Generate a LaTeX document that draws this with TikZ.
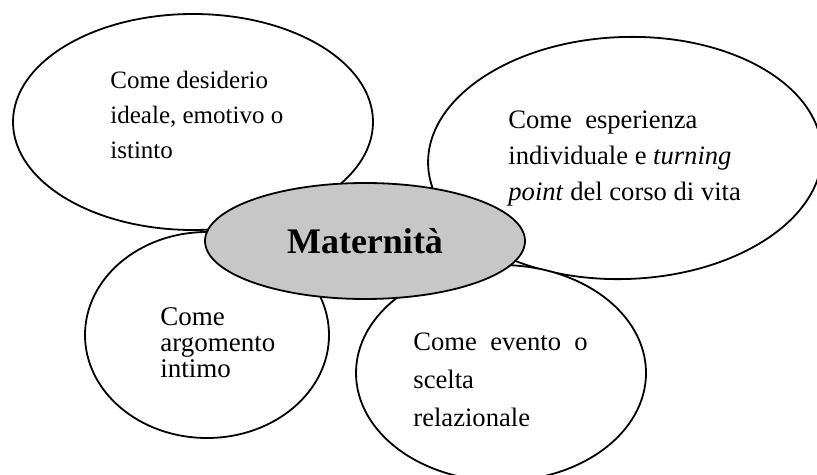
\documentclass[tikz,border=0pt]{standalone}
\usepackage{fontspec}
\setmainfont{Liberation Serif}
\usetikzlibrary{shapes.geometric}

\tikzset{
  bubble/.style={draw, ellipse, fill=white, line width=0.9pt, inner sep=0pt},
  core/.style={bubble, fill=black!22, font=\fontsize{18}{20}\selectfont\bfseries},
  note/.style={align=left, inner sep=0pt, anchor=north west}
}

\begin{document}
\begin{tikzpicture}[x=0.5pt, y=-0.5pt]
  \useasboundingbox (0,0) rectangle (817,475);
  \clip (0,0) rectangle (817,475);
  % bubbles
  \node[bubble, minimum width=180pt, minimum height=108pt] (desiderio) at (193,122) {};
  \node[bubble, minimum width=197pt, minimum height=121pt, rotate=2] (esperienza) at (625,158) {};
  \node[bubble, minimum width=122pt, minimum height=103pt] (intimo) at (207,335) {};
  \node[bubble, minimum width=145pt, minimum height=108pt] (evento) at (501,373) {};
  \node[core, minimum width=160pt, minimum height=58pt] (mat) at (365,241) {Maternità};
  % texts
  \node[note, font=\fontsize{12.5}{17.5}\selectfont] (desiderio-t) at (110,71)
    {Come desiderio\\ideale, emotivo o\\istinto};
  \node[note, font=\fontsize{13.3}{18}\selectfont] (esperienza-t) at (508,110)
    {Come\ \ esperienza\\individuale e \textit{turning}\\\textit{point} del corso di vita};
  \node[note, font=\fontsize{13.5}{13}\selectfont] (intimo-t) at (160,307)
    {Come\\argomento\\intimo};
  \node[note, font=\fontsize{13.3}{19}\selectfont] (evento-t) at (413,332)
    {Come\ \ evento\ \ o\\scelta\\relazionale};
\end{tikzpicture}
\end{document}
